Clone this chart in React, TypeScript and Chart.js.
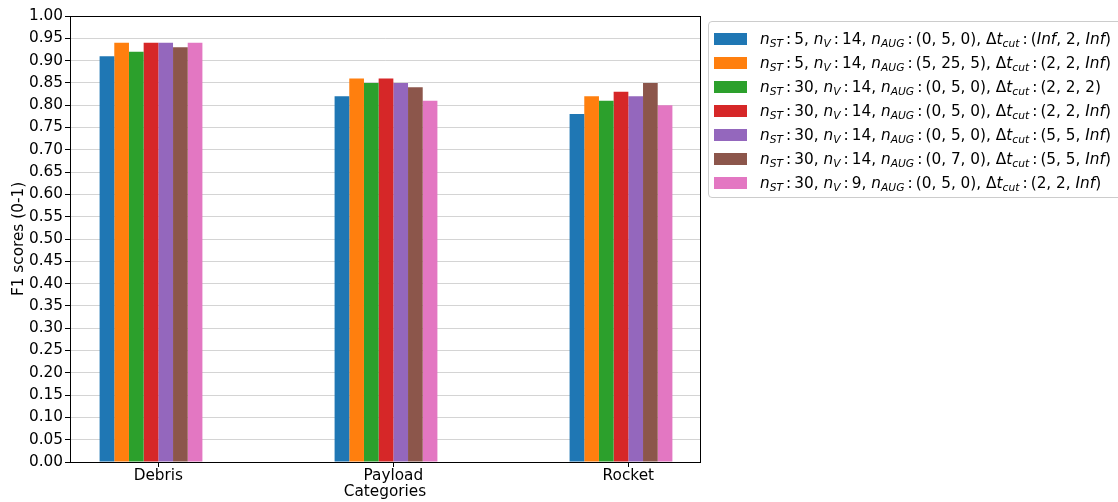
import React, { useEffect, useRef } from "react";
import { Chart, registerables } from "chart.js";

Chart.register(...registerables);

const categories = ["Debris", "Payload", "Rocket"];

const series1 = [0.91, 0.82, 0.78];
const series2 = [0.94, 0.86, 0.82];
const series3 = [0.92, 0.85, 0.81];
const series4 = [0.94, 0.86, 0.83];
const series5 = [0.94, 0.85, 0.82];
const series6 = [0.93, 0.84, 0.85];
const series7 = [0.94, 0.81, 0.8];

const seriesColors = ["#1f77b4", "#ff7f0e", "#2ca02c", "#d62728", "#9467bd", "#8c564b", "#e377c2"];

const nST = [5, 5, 30, 30, 30, 30, 30];
const nV = [14, 14, 14, 14, 14, 14, 9];
const nAUG = [
  ["0", "5", "0"],
  ["5", "25", "5"],
  ["0", "5", "0"],
  ["0", "5", "0"],
  ["0", "5", "0"],
  ["0", "7", "0"],
  ["0", "5", "0"],
];
const dtCut = [
  ["Inf", "2", "Inf"],
  ["2", "2", "Inf"],
  ["2", "2", "2"],
  ["2", "2", "Inf"],
  ["5", "5", "Inf"],
  ["5", "5", "Inf"],
  ["2", "2", "Inf"],
];

const allSeries = [series1, series2, series3, series4, series5, series6, series7];

const FONT = "'DejaVu Sans', sans-serif";
const FS = 15.3;

function Tuple({ items }: { items: string[] }) {
  return (
    <span>
      (
      {items.map((it, i) => (
        <React.Fragment key={i}>
          {i > 0 ? ", " : ""}
          {it === "Inf" ? <i>Inf</i> : it}
        </React.Fragment>
      ))}
      )
    </span>
  );
}

const subStyle: React.CSSProperties = {
  fontSize: "70%",
  fontStyle: "italic",
  position: "relative",
  top: "0.3em",
  verticalAlign: "baseline",
};

function Sub({ t }: { t: string }) {
  return <span style={subStyle}>{t}</span>;
}

const COLON = "\u2009:\u2009";

function LegendLabel({ i }: { i: number }) {
  return (
    <span>
      <i>n</i>
      <Sub t="ST" />
      {COLON}
      {nST[i]}, <i>n</i>
      <Sub t="V" />
      {COLON}
      {nV[i]}, <i>n</i>
      <Sub t="AUG" />
      {COLON}
      <Tuple items={nAUG[i]} />, Δ<i>t</i>
      <Sub t="cut" />
      {COLON}
      <Tuple items={dtCut[i]} />
    </span>
  );
}

export default function App() {
  const canvasRef = useRef<HTMLCanvasElement | null>(null);

  useEffect(() => {
    document.body.style.margin = "0";
    const canvas = canvasRef.current;
    if (!canvas) return;

    const framePlugin = {
      id: "frame",
      afterDraw(chart: any) {
        const { ctx, chartArea } = chart;
        ctx.save();
        ctx.strokeStyle = "#000";
        ctx.lineWidth = 1;
        ctx.strokeRect(
          Math.round(chartArea.left) + 0.5,
          Math.round(chartArea.top) + 0.5,
          Math.round(chartArea.right - chartArea.left),
          Math.round(chartArea.bottom - chartArea.top)
        );
        ctx.restore();
      },
    };

    const tickOffset = 0.03125;

    const chart = new Chart(canvas, {
      type: "bar",
      data: {
        datasets: allSeries.map((s, k) => ({
          label: "series " + (k + 1),
          data: s.map((v, i) => ({ x: i, y: v })),
          backgroundColor: seriesColors[k],
          borderWidth: 0,
          categoryPercentage: 0.4375,
          barPercentage: 1,
        })),
      },
      options: {
        responsive: false,
        animation: false,
        devicePixelRatio: 1,
        layout: { padding: { left: 0, top: 16, right: 418, bottom: 0 } },
        plugins: {
          legend: { display: false },
          tooltip: { enabled: false },
        },
        scales: {
          x: {
            type: "linear",
            min: -0.3447,
            max: 2.3362,
            offset: false,
            afterBuildTicks: (scale: any) => {
              scale.ticks = categories.map((_, i) => ({ value: i + tickOffset }));
            },
            afterFit: (scale: any) => {
              scale.height = 40;
            },
            grid: {
              offset: false,
              drawOnChartArea: false,
              drawTicks: true,
              tickLength: 5,
              color: "#000",
              tickColor: "#000",
            },
            border: { display: true, color: "#000" },
            ticks: {
              autoSkip: false,
              maxRotation: 0,
              padding: 0,
              color: "#000",
              font: { family: FONT, size: FS },
              callback: (_v: any, idx: number) => categories[idx],
            },
            title: {
              display: true,
              text: "Categories",
              color: "#000",
              font: { family: FONT, size: FS },
              padding: { top: 0, bottom: 1 },
            },
          },
          y: {
            type: "linear",
            min: 0,
            max: 1,
            z: 1,
            afterFit: (scale: any) => {
              scale.width = 70;
            },
            grid: {
              color: "rgba(176,176,176,0.55)",
              tickColor: "#000",
              tickLength: 5,
              lineWidth: 1,
            },
            border: { display: true, color: "#000" },
            ticks: {
              stepSize: 0.05,
              autoSkip: false,
              padding: 2,
              color: "#000",
              font: { family: FONT, size: FS },
              callback: (v: any) => Number(v).toFixed(2),
            },
            title: {
              display: true,
              text: "F1 scores (0-1)",
              color: "#000",
              font: { family: FONT, size: FS },
              padding: { top: 10, bottom: 0 },
            },
          },
        },
      },
      plugins: [framePlugin],
    } as any);

    return () => chart.destroy();
  }, []);

  return (
    <div style={{ position: "relative", width: 1118, height: 502, overflow: "hidden", background: "#fff" }}>
      <canvas ref={canvasRef} width={1118} height={502} style={{ display: "block" }} />
      <div
        style={{
          position: "absolute",
          left: 708,
          top: 21,
          width: 440,
          height: 175,
          border: "1px solid #cccccc",
          borderRadius: 4,
          background: "rgba(255,255,255,0.8)",
          fontFamily: FONT,
          fontSize: FS,
          color: "#000",
        }}
      >
        {seriesColors.map((c, i) => (
          <div
            key={i}
            style={{
              position: "absolute",
              left: 0,
              top: 5 + 24 * i,
              height: 24,
              width: 440,
              lineHeight: "24px",
              whiteSpace: "nowrap",
            }}
          >
            <span
              style={{
                position: "absolute",
                left: 5,
                top: 6,
                width: 33,
                height: 12,
                background: c,
              }}
            />
            <span style={{ position: "absolute", left: 51, top: 0 }}>
              <LegendLabel i={i} />
            </span>
          </div>
        ))}
      </div>
    </div>
  );
}
